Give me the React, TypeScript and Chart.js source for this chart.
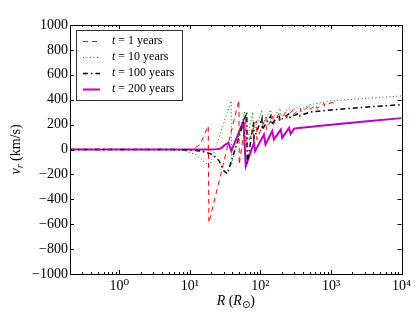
import React, { useEffect, useRef } from 'react';
import { Chart, registerables } from 'chart.js';

Chart.register(...registerables);

// t = 1 years (red dashed)
const r1R = [0.2, 5, 11, 14, 18.2, 18.6, 49.5, 50, 62, 63, 88, 89, 120, 121, 150, 152, 183, 185, 230, 232, 290, 293, 370, 375, 480, 485, 620, 630, 800, 810, 1000, 1200];
const r1V = [0, 0, 0, 40, 190, -590, 395, -120, 250, 20, 230, 80, 260, 160, 270, 200, 290, 230, 300, 250, 320, 280, 330, 300, 345, 320, 355, 330, 370, 350, 375, 385];

// t = 10 years (green dotted)
const r10R = [0.2, 5, 8, 12, 16, 19, 38.5, 39, 60, 61, 78, 79, 105, 106, 140, 142, 190, 193, 260, 265, 360, 370, 500, 1000, 3000, 10000];
const r10V = [0, 0, -8, -40, -100, -131, 390, -120, 310, 0, 300, 120, 320, 200, 320, 240, 330, 270, 340, 300, 350, 320, 360, 390, 410, 430];

// t = 100 years (black dash-dot)
const r100R = [0.2, 6, 10, 15, 21, 26, 30.5, 34, 64, 65, 80, 81, 105, 106, 140, 142, 185, 188, 250, 255, 350, 360, 500, 1000, 3000, 10000];
const r100V = [0, 0, -3, -15, -40, -92, -173, -195, 300, -110, 220, 90, 250, 160, 270, 200, 280, 230, 285, 255, 290, 270, 300, 318, 340, 360];

// t = 200 years (magenta solid)
const r200R = [0.2, 20, 24, 27.4, 31, 35.2, 38.7, 57.3, 62, 81, 84, 112, 118, 147, 155, 194, 204, 254, 268, 300, 350, 1000, 3000, 10000];
const r200V = [0, 0, 3, 8, 35, 54, -13, 228, -133, 54, -13, 120, 40, 148, 80, 160, 94, 174, 125, 168, 172, 198, 225, 252];

const yTickValues = [-1000, -800, -600, -400, -200, 0, 200, 400, 600, 800, 1000];
const xTickValues = [1, 10, 100, 1000, 10000];
const xTickLabels = ['10\u2070', '10\u00B9', '10\u00B2', '10\u00B3', '10\u2074'];
const legendTimes = ['1', '10', '100', '200'];

const seriesColors = ['#ff0000', '#008000', '#000000', '#bf00bf'];
const seriesDash = [[5, 4], [1, 2.5], [5, 3, 1.5, 3], []];
const seriesWidth = [1, 1, 1.5, 2];

const toPts = (R: number[], V: number[]) => R.map((r, i) => ({ x: r, y: V[i] }));

const FONT = '"Liberation Serif", "DejaVu Serif", serif';

const decorPlugin = {
  id: 'decor',
  afterDraw(chart: any) {
    const ctx = chart.ctx as CanvasRenderingContext2D;
    const { left, right, top, bottom } = chart.chartArea;
    const xs = chart.scales.x;
    const ys = chart.scales.y;
    ctx.save();
    ctx.strokeStyle = '#000';
    ctx.lineWidth = 1;
    ctx.setLineDash([]);
    // ticks
    ctx.beginPath();
    yTickValues.forEach((v) => {
      const y = Math.round(ys.getPixelForValue(v)) + 0.5;
      ctx.moveTo(left, y); ctx.lineTo(left + 4, y);
      ctx.moveTo(right, y); ctx.lineTo(right - 4, y);
    });
    for (let e = -1; e <= 4; e++) {
      for (let m = 1; m <= 9; m++) {
        const v = m * Math.pow(10, e);
        if (v < 0.2 || v > 10000) continue;
        const x = Math.round(xs.getPixelForValue(v)) + 0.5;
        const len = m === 1 ? 4 : 2;
        ctx.moveTo(x, bottom); ctx.lineTo(x, bottom - len);
        ctx.moveTo(x, top); ctx.lineTo(x, top + len);
      }
    }
    ctx.stroke();
    // frame
    ctx.strokeRect(Math.round(left) + 0.5, Math.round(top) + 0.5, Math.round(right - left), Math.round(bottom - top));

    // legend
    const bx = 76.5, by = 30.5, bw = 106, bh = 70;
    ctx.fillStyle = '#fff';
    ctx.fillRect(bx, by, bw, bh);
    ctx.strokeStyle = '#333';
    ctx.strokeRect(bx, by, bw, bh);
    const rows = [41, 57, 73, 89];
    ctx.textBaseline = 'middle';
    rows.forEach((ry, i) => {
      ctx.strokeStyle = seriesColors[i];
      ctx.lineWidth = seriesWidth[i];
      ctx.setLineDash(seriesDash[i]);
      ctx.beginPath();
      ctx.moveTo(83, ry + 0.5);
      ctx.lineTo(100, ry + 0.5);
      ctx.stroke();
      ctx.setLineDash([]);
      ctx.fillStyle = '#000';
      ctx.font = 'italic 12px ' + FONT;
      ctx.fillText('t', 112, ry);
      const w = ctx.measureText('t').width;
      ctx.font = '12px ' + FONT;
      ctx.fillText(' = ' + legendTimes[i] + ' years', 112 + w, ry);
    });

    // axis titles
    ctx.fillStyle = '#000';
    ctx.textBaseline = 'alphabetic';
    const cx = (left + right) / 2;
    const ty = 305;
    ctx.font = 'italic 14px ' + FONT;
    const wR = ctx.measureText('R').width;
    ctx.font = '14px ' + FONT;
    const wOpen = ctx.measureText(' (').width;
    const wClose = ctx.measureText(')').width;
    ctx.font = 'italic 14px ' + FONT;
    const wR2 = ctx.measureText('R').width;
    ctx.font = '10px "DejaVu Sans", sans-serif';
    const wSun = ctx.measureText('\u2299').width;
    const total = wR + wOpen + wR2 + wSun + wClose;
    let px = cx - total / 2;
    ctx.font = 'italic 14px ' + FONT;
    ctx.fillText('R', px, ty); px += wR;
    ctx.font = '14px ' + FONT;
    ctx.fillText(' (', px, ty); px += wOpen;
    ctx.font = 'italic 14px ' + FONT;
    ctx.fillText('R', px, ty); px += wR2;
    ctx.font = '10px "DejaVu Sans", sans-serif';
    ctx.fillText('\u2299', px, ty + 3); px += wSun;
    ctx.font = '14px ' + FONT;
    ctx.fillText(')', px, ty);

    ctx.save();
    ctx.translate(20, (top + bottom) / 2);
    ctx.rotate(-Math.PI / 2);
    ctx.font = 'italic 14px ' + FONT;
    const wv = ctx.measureText('v').width;
    ctx.font = 'italic 10px ' + FONT;
    const wr = ctx.measureText('r').width;
    ctx.font = '14px ' + FONT;
    const wrest = ctx.measureText(' (km/s)').width;
    let qx = -(wv + wr + wrest) / 2;
    ctx.font = 'italic 14px ' + FONT;
    ctx.fillText('v', qx, 0); qx += wv;
    ctx.font = 'italic 10px ' + FONT;
    ctx.fillText('r', qx, 3); qx += wr;
    ctx.font = '14px ' + FONT;
    ctx.fillText(' (km/s)', qx, 0);
    ctx.restore();

    ctx.restore();
  },
};

export default function App() {
  const ref = useRef<HTMLCanvasElement | null>(null);
  useEffect(() => {
    document.body.style.margin = '0';
    const canvas = ref.current;
    if (!canvas) return;
    const sets = [
      toPts(r1R, r1V),
      toPts(r10R, r10V),
      toPts(r100R, r100V),
      toPts(r200R, r200V),
    ];
    const chart = new Chart(canvas, {
      type: 'line',
      data: {
        datasets: sets.map((d, i) => ({
          label: 't = ' + legendTimes[i] + ' years',
          data: d,
          borderColor: seriesColors[i],
          backgroundColor: seriesColors[i],
          borderWidth: seriesWidth[i],
          borderDash: seriesDash[i],
          pointRadius: 0,
          tension: 0,
          fill: false,
        })),
      },
      options: {
        responsive: false,
        animation: false,
        devicePixelRatio: 1,
        layout: { padding: { left: 0, right: 12, top: 25, bottom: 0 } },
        plugins: { legend: { display: false }, tooltip: { enabled: false } },
        scales: {
          x: {
            type: 'logarithmic',
            min: 0.2,
            max: 10000,
            grid: { display: false, drawTicks: false },
            border: { display: false },
            afterBuildTicks: (s: any) => {
              s.ticks = xTickValues.map((v) => ({ value: v }));
            },
            afterFit: (s: any) => {
              s.height = 38;
            },
            ticks: {
              autoSkip: false,
              maxRotation: 0,
              padding: 4,
              color: '#000',
              font: { family: FONT, size: 14 },
              callback: (v: any) => {
                const i = xTickValues.indexOf(Number(v));
                return i >= 0 ? xTickLabels[i] : '';
              },
            },
          },
          y: {
            min: -1000,
            max: 1000,
            grid: { display: false, drawTicks: false },
            border: { display: false },
            afterBuildTicks: (s: any) => {
              s.ticks = yTickValues.map((v) => ({ value: v }));
            },
            afterFit: (s: any) => {
              s.width = 70;
            },
            ticks: {
              autoSkip: false,
              padding: 2,
              color: '#000',
              font: { family: FONT, size: 14 },
              callback: (v: any) => {
                const n = Number(v);
                return n < 0 ? '\u2212' + Math.abs(n) : String(n);
              },
            },
          },
        },
      },
      plugins: [decorPlugin],
    });
    return () => chart.destroy();
  }, []);
  return (
    <div style={{ width: 415, height: 312 }}>
      <canvas ref={ref} width={415} height={312} style={{ display: 'block' }} />
    </div>
  );
}
